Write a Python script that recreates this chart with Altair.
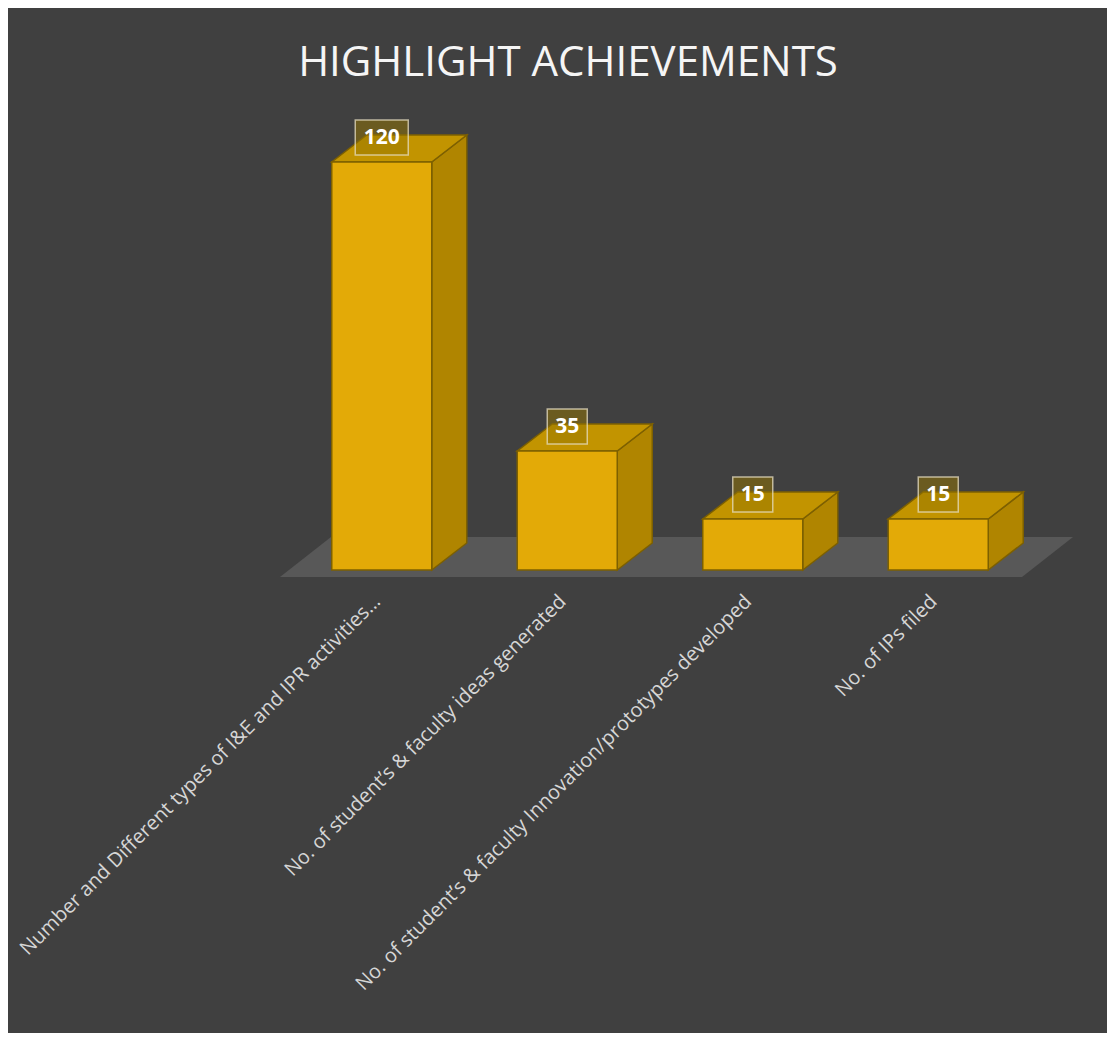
import json
import altair as alt
import pandas as pd

# ---- data ----
categories = [
    "Number and Different types of I&E and IPR activities…",
    "No. of student’s & faculty ideas generated",
    "No. of student’s & faculty Innovation/prototypes developed",
    "No. of IPs filed",
]
values = [120, 35, 15, 15]
title_text = "HIGHLIGHT ACHIEVEMENTS"

# ---- style / geometry constants ----
PX_PER_UNIT_Y = 3.4        # pixels per value unit
BAND_PX = 185.5            # pixels per category
HALF_W = 50 / BAND_PX      # half bar width (category units)
DX = 35 / BAND_PX          # 3D depth offset in x
DY = 27 / PX_PER_UNIT_Y    # 3D depth offset in y

PLOT_W = 742
PLOT_H = 500
Y_MIN = -30 / PX_PER_UNIT_Y
Y_MAX = (PLOT_H - 30) / PX_PER_UNIT_Y

xs = alt.Scale(domain=[-0.5, 3.5], nice=False, zero=False)
ys = alt.Scale(domain=[Y_MIN, Y_MAX], nice=False, zero=False)

label_expr = json.dumps(categories) + "[datum.value]"
x_axis = alt.Axis(
    values=[0, 1, 2, 3], labelExpr=label_expr, labelAngle=-45,
    domain=False, ticks=False, grid=False, title=None,
    labelColor="#d6d6d6", labelFont="Open Sans", labelFontSize=20,
    labelLimit=2000, labelPadding=-9, labelOffset=-12, labelOverlap=False,
)

# front faces
front = pd.DataFrame({
    "cat": categories,
    "x": [i - HALF_W for i in range(len(values))],
    "x2": [i + HALF_W for i in range(len(values))],
    "y": [0] * len(values),
    "y2": values,
})

# side faces (vertical area, two points per bar) and top faces
side_rows = []
top_rows = []
for i, (c, v) in enumerate(zip(categories, values)):
    side_rows.append({"cat": c, "x": i + HALF_W, "y": 0, "y2": v})
    side_rows.append({"cat": c, "x": i + HALF_W + DX, "y": DY, "y2": v + DY})
    top_rows.append({"cat": c, "y": v, "x": i - HALF_W, "x2": i + HALF_W})
    top_rows.append({"cat": c, "y": v + DY, "x": i - HALF_W + DX, "x2": i + HALF_W + DX})
side = pd.DataFrame(side_rows)
top = pd.DataFrame(top_rows)

# floor (gray parallelogram)
floor = pd.DataFrame({
    "y": [-7 / PX_PER_UNIT_Y, 33 / PX_PER_UNIT_Y],
    "x": [-0.5 - 9 / BAND_PX, -0.5 + 42 / BAND_PX],
    "x2": [3.5 - 9 / BAND_PX, 3.5 + 42 / BAND_PX],
})

# value label boxes
box_h = 35 / PX_PER_UNIT_Y
lift = DY / 2 + 3.2
labels = pd.DataFrame({
    "cat": categories,
    "xc": list(range(len(values))),
    "x": [i - (14 + 13 * len(str(v))) / 2 / BAND_PX for i, v in enumerate(values)],
    "x2": [i + (14 + 13 * len(str(v))) / 2 / BAND_PX for i, v in enumerate(values)],
    "yc": [v + lift for v in values],
    "y": [v + lift - box_h / 2 for v in values],
    "y2": [v + lift + box_h / 2 for v in values],
    "label": [str(v) for v in values],
})

floor_layer = alt.Chart(floor).mark_area(orient="horizontal", color="#585858").encode(
    y=alt.Y("y:Q", scale=ys, axis=None),
    x=alt.X("x:Q", scale=xs, axis=x_axis, stack=None),
    x2="x2:Q",
)

side_layer = alt.Chart(side).mark_area(
    color="#b08500", stroke="#7d6000", strokeWidth=1.5
).encode(
    x=alt.X("x:Q", scale=xs, axis=x_axis),
    y=alt.Y("y:Q", scale=ys, axis=None, stack=None),
    y2="y2:Q",
    detail="cat:N",
)

top_layer = alt.Chart(top).mark_area(
    orient="horizontal", color="#c29400", stroke="#7d6000", strokeWidth=1.5
).encode(
    y=alt.Y("y:Q", scale=ys, axis=None),
    x=alt.X("x:Q", scale=xs, axis=x_axis, stack=None),
    x2="x2:Q",
    detail="cat:N",
)

front_layer = alt.Chart(front).mark_rect(
    color="#e3aa07", stroke="#7d6000", strokeWidth=1.5
).encode(
    x=alt.X("x:Q", scale=xs, axis=x_axis),
    x2="x2:Q",
    y=alt.Y("y:Q", scale=ys, axis=None),
    y2="y2:Q",
)

box_layer = alt.Chart(labels).mark_rect(
    fill="#957500", fillOpacity=0.5, stroke="#e6dcc0", strokeOpacity=0.75, strokeWidth=1.5
).encode(
    x=alt.X("x:Q", scale=xs, axis=x_axis),
    x2="x2:Q",
    y=alt.Y("y:Q", scale=ys, axis=None),
    y2="y2:Q",
)

text_layer = alt.Chart(labels).mark_text(
    color="white", font="Open Sans", fontWeight="bold", fontSize=21,
    baseline="middle", align="center",
).encode(
    x=alt.X("xc:Q", scale=xs, axis=x_axis),
    y=alt.Y("yc:Q", scale=ys, axis=None),
    text="label:N",
)

chart = alt.layer(
    floor_layer, side_layer, top_layer, front_layer, box_layer, text_layer
).properties(
    width=PLOT_W,
    height=PLOT_H,
    autosize=alt.AutoSizeParams(type="none"),
    padding={"left": 281, "top": 92, "right": 76, "bottom": 433},
    background="#404040",
    title=alt.TitleParams(
        text=title_text, color="#f5f5f5", font="Open Sans", fontSize=42,
        fontWeight="normal", anchor="middle", frame="group", dx=-92, offset=15,
    ),
).configure_view(stroke=None)

chart.save("out.html", embed_options={"renderer": "svg", "actions": False})
